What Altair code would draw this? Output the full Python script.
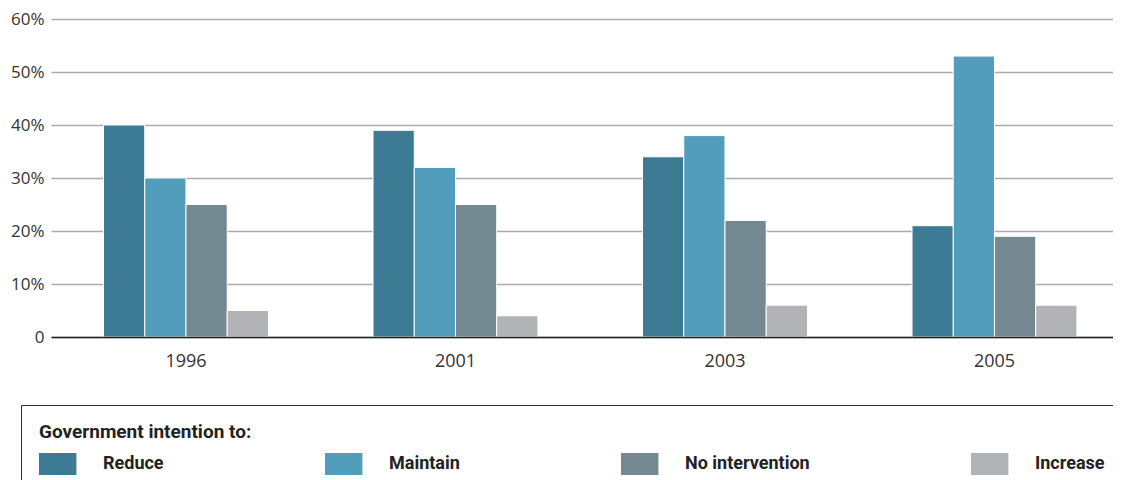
import altair as alt
import pandas as pd

years = ["1996", "2001", "2003", "2005"]
series = ["Reduce", "Maintain", "No intervention", "Increase"]
reduce_vals = [40, 39, 34, 21]
maintain_vals = [30, 32, 38, 53]
no_intervention_vals = [25, 25, 22, 19]
increase_vals = [5, 4, 6, 6]
colors = ["#3d7a93", "#519dbb", "#738891", "#b2b3b7"]
y_ticks = [0, 10, 20, 30, 40, 50, 60]

rows = []
for s, vals in zip(series, [reduce_vals, maintain_vals, no_intervention_vals, increase_vals]):
    for yr, v in zip(years, vals):
        rows.append({"year": yr, "series": s, "value": v})
df = pd.DataFrame(rows)

chart = alt.Chart(df).mark_bar(stroke="white", strokeWidth=1).encode(
    x=alt.X(
        "year:N", sort=years,
        scale=alt.Scale(paddingInner=0.388, paddingOuter=0.1643, align=0.593),
        axis=alt.Axis(title=None, labelAngle=0, ticks=False, grid=False,
                      domainColor="#222", domainWidth=1.5, zindex=1,
                      labelFont="Open Sans", labelFontSize=18, labelColor="#333",
                      labelPadding=15),
    ),
    xOffset=alt.XOffset("series:N", sort=series),
    y=alt.Y(
        "value:Q",
        scale=alt.Scale(domain=[0, 60], nice=False),
        axis=alt.Axis(title=None, values=y_ticks, domain=False, ticks=False,
                      labelExpr="datum.value == 0 ? '0' : datum.value + '%'",
                      gridColor="#aaaaaa", gridWidth=1.5,
                      labelFont="Open Sans", labelFontSize=17, labelColor="#333",
                      labelPadding=7),
    ),
    color=alt.Color(
        "series:N", sort=series,
        scale=alt.Scale(domain=series, range=colors),
        legend=alt.Legend(
            title="Government intention to:", orient="none",
            legendX=-30, legendY=386, direction="horizontal", columns=4,
            columnPadding=161,
            symbolType="M-1,-1H2.4V1H-1Z", symbolSize=484,
            symbolStrokeWidth=0, symbolOpacity=1, labelOffset=42,
            labelFont="Roboto", labelFontSize=18, labelFontWeight="bold",
            labelColor="#222",
            titleFont="Roboto", titleFontSize=19, titleFontWeight="bold",
            titleColor="#222", titlePadding=11, titleLimit=500,
            padding=18, strokeColor="#333",
        ),
    ),
).properties(
    width=1062, height=318,
    autosize=alt.AutoSizeParams(type="none"),
    padding={"left": 43, "top": 11, "right": 0, "bottom": 150},
).configure_view(stroke=None)

chart.save("out.html", embed_options={"renderer": "svg", "actions": False})
